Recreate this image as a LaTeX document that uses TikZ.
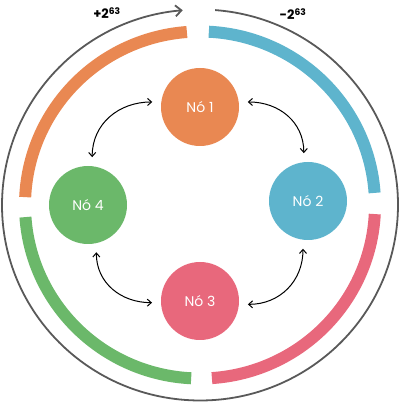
\documentclass[tikz,border=0pt]{standalone}
\usepackage{fontspec}
\setmainfont{Poppins}
\usetikzlibrary{arrows.meta,calc}
\definecolor{corange}{HTML}{E98852}
\definecolor{cblue}{HTML}{5EB4CD}
\definecolor{cred}{HTML}{E8687C}
\definecolor{cgreen}{HTML}{6BB86A}
\definecolor{cgray}{HTML}{595959}
\tikzset{
  nodeball/.style={circle, minimum size=78pt, inner sep=0pt, outer sep=9pt,
    text=white, font=\fontsize{14}{16}\selectfont},
  ringarc/.style={line width=12pt, line cap=butt},
  link/.style={black, line width=1pt, {Straight Barb[length=4pt,width=7pt]}-{Straight Barb[length=4pt,width=7pt]}, looseness=1.05},
  wraplabel/.style={font=\bfseries\fontsize{13}{15}\selectfont, text=black}
}
\begin{document}
\begin{tikzpicture}[x=1pt,y=1pt]
\useasboundingbox (0,0) rectangle (400,403);
\coordinate (C) at (200,198);
% outer gray wrap arrow
\draw[cgray, line width=1.8pt, -{Straight Barb[length=6pt,width=11pt]}]
  ($(C)+(85.6:198 and 195.5)$) arc[start angle=85.6, end angle=-265, x radius=198, y radius=195.5];
% coloured ring arcs
\draw[ringarc, corange] ($(C)+(94.3:175 and 173.5)$) arc[start angle=94.3, end angle=177.4, x radius=175, y radius=173.5];
\draw[ringarc, cgreen] ($(C)+(184:175 and 173.5)$) arc[start angle=184, end angle=267.1, x radius=175, y radius=173.5];
\draw[ringarc, cred] ($(C)+(273.9:175 and 173.5)$) arc[start angle=273.9, end angle=357, x radius=175, y radius=173.5];
\draw[ringarc, cblue] ($(C)+(4:175 and 173.5)$) arc[start angle=4, end angle=87.1, x radius=175, y radius=173.5];
% labels
\node[wraplabel] (lp) at (107,390) {+2\textsuperscript{63}};
\node[wraplabel] (lm) at (293,389) {-2\textsuperscript{63}};
% nodes
\node[nodeball, fill=corange] (n1) at (200,296) {Nó 1};
\node[nodeball, fill=cblue] (n2) at (308,202) {Nó 2};
\node[nodeball, fill=cred] (n3) at (200,102) {Nó 3};
\node[nodeball, fill=cgreen] (n4) at (88,198) {Nó 4};
% links
\draw[link] (n4.85) to[out=90,in=180] (n1.174);
\draw[link] (n1.6) to[out=0,in=90] (n2.95);
\draw[link] (n2.264) to[out=270,in=0] (n3.356);
\draw[link] (n3.182) to[out=180,in=270] (n4.280);
\end{tikzpicture}
\end{document}
